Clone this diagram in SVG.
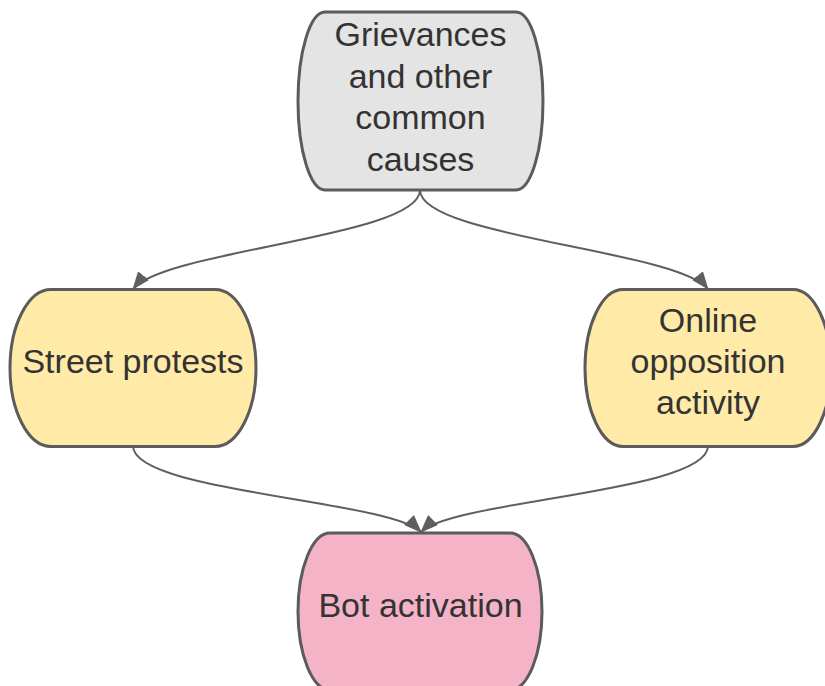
<svg xmlns="http://www.w3.org/2000/svg" width="825" height="686" viewBox="0 0 825 686">
  <style>
    .node { stroke: #5b5b5b; stroke-width: 3; }
    .gray { fill: #e4e4e4; }
    .yellow { fill: #ffeaa8; }
    .pink { fill: #f4b3c7; }
    .label { font-family: "Liberation Sans", Arial, sans-serif; font-size: 34px; fill: #333333; text-anchor: middle; }
    .edge { fill: none; stroke: #5f5f5f; stroke-width: 2; }
  </style>
  <defs>
    <marker id="arrow" markerUnits="userSpaceOnUse" markerWidth="18" markerHeight="14" refX="17" refY="7" orient="auto">
      <path d="M0,0 L18,7 L0,14 z" fill="#5f5f5f"/>
    </marker>
  </defs>

  <rect width="825" height="686" fill="#ffffff"/>

  <g id="connectors">
    <path class="edge" d="M420,190 C420,237 164,250 133,289" marker-end="url(#arrow)"/>
    <path class="edge" d="M420,190 C420,237 677,250 708,289" marker-end="url(#arrow)"/>
    <path class="edge" d="M133,446 C133,492 389,500 421,532" marker-end="url(#arrow)"/>
    <path class="edge" d="M708,446 C708,492 453,500 421,532" marker-end="url(#arrow)"/>
  </g>

  <g id="causes">
    <path class="node gray" d="M325,12 H516 A27,89 0 0 1 516,190 H325 A27,89 0 0 1 325,12 Z"/>
    <text class="label" x="420.5" y="46">Grievances</text>
    <text class="label" x="420.5" y="87.5">and other</text>
    <text class="label" x="420.5" y="129">common</text>
    <text class="label" x="420.5" y="170.5">causes</text>
  </g>

  <g id="street">
    <path class="node yellow" d="M51,289.5 H215 A41,78.5 0 0 1 215,446.5 H51 A41,78.5 0 0 1 51,289.5 Z"/>
    <text class="label" x="133" y="373">Street protests</text>
  </g>

  <g id="online">
    <path class="node yellow" d="M623,289.5 H793 A38,78.5 0 0 1 793,446.5 H623 A38,78.5 0 0 1 623,289.5 Z"/>
    <text class="label" x="708" y="332">Online</text>
    <text class="label" x="708" y="373">opposition</text>
    <text class="label" x="708" y="414">activity</text>
  </g>

  <g id="bots">
    <path class="node pink" d="M330,533 H510 A32,78.5 0 0 1 510,690 H330 A32,78.5 0 0 1 330,533 Z"/>
    <text class="label" x="420.5" y="617">Bot activation</text>
  </g>
</svg>
